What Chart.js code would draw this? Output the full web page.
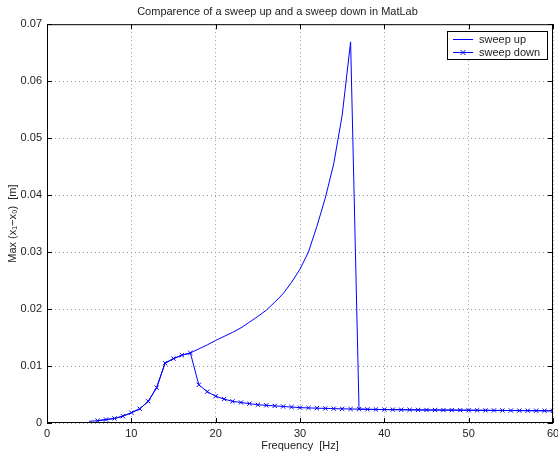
<!DOCTYPE html>
<html>
<head>
<meta charset="utf-8">
<script src="https://cdn.jsdelivr.net/npm/chart.js@4/dist/chart.umd.min.js"></script>
<style>
  html, body { margin: 0; padding: 0; background: #fff; }
  #chart { display: block; }
</style>
</head>
<body>
<canvas id="chart" width="558" height="457"></canvas>
<script>
const sweepUpHz = [5, 6, 7, 8, 9, 10, 11, 12, 13, 14, 15, 16, 17, 18, 19, 20,
  21, 22, 23, 24, 25, 26, 27, 28, 29, 30, 31, 32, 33, 34, 35, 36, 37, 38, 39, 40,
  41, 42, 43, 44, 45, 46, 47, 48, 49, 50, 51, 52, 53, 54, 55, 56, 57, 58, 59, 60];
const sweepUpAmp = [0.0003, 0.0004, 0.0006, 0.0008, 0.0012, 0.0018, 0.0025, 0.0038,
  0.0062, 0.0105, 0.0113, 0.0119, 0.0123, 0.0130, 0.0137, 0.0145,
  0.0152, 0.0159, 0.0167, 0.0177, 0.0187, 0.0198, 0.0212, 0.0227, 0.0247, 0.0270,
  0.0300, 0.0345, 0.0395, 0.0455, 0.0540, 0.0669, 0.00245, 0.0024, 0.00238, 0.00236,
  0.00235, 0.00233, 0.00232, 0.0023, 0.00229, 0.00228, 0.00227, 0.00226, 0.00225, 0.00224,
  0.00223, 0.00222, 0.00221, 0.0022, 0.00219, 0.00218, 0.00217, 0.00216, 0.00215, 0.00214];

const sweepDownHz = [6, 7, 8, 9, 10, 11, 12, 13, 14, 15, 16, 17, 18, 19, 20,
  21, 22, 23, 24, 25, 26, 27, 28, 29, 30, 31, 32, 33, 34, 35, 36, 37, 38, 39, 40,
  41, 42, 43, 44, 45, 46, 47, 48, 49, 50, 51, 52, 53, 54, 55, 56, 57, 58, 59, 60];
const sweepDownAmp = [0.0004, 0.0006, 0.0008, 0.0012, 0.0018, 0.0025, 0.0038, 0.0062,
  0.0105, 0.0113, 0.0119, 0.0123, 0.0067, 0.0055, 0.0047,
  0.0042, 0.0038, 0.0036, 0.0034, 0.0032, 0.0031, 0.0030, 0.0029, 0.0028, 0.0027,
  0.00265, 0.0026, 0.00256, 0.00252, 0.00249, 0.00246, 0.00243, 0.0024, 0.00238, 0.00236,
  0.00235, 0.00233, 0.00232, 0.0023, 0.00229, 0.00228, 0.00227, 0.00226, 0.00225, 0.00224,
  0.00223, 0.00222, 0.00221, 0.0022, 0.00219, 0.00218, 0.00217, 0.00216, 0.00215, 0.00214];

const xTicks = [0, 10, 20, 30, 40, 50, 60];
const yTicks = [0, 0.01, 0.02, 0.03, 0.04, 0.05, 0.06, 0.07];

const FONT = "'Liberation Sans', Arial, Helvetica, sans-serif";
const TEXT = "#222";
const BLUE = "#0000ff";

// box round the axes, inward tick marks and the legend inside the plot
const matlabFrame = {
  id: "matlabFrame",
  afterDatasetsDraw(chart) {
    const { ctx, chartArea: { left, top, right, bottom }, scales: { x, y } } = chart;
    ctx.save();
    ctx.strokeStyle = "#000";
    ctx.lineWidth = 1;
    ctx.strokeRect(left + 0.5, top + 0.5, right - left - 1, bottom - top - 1);

    ctx.beginPath();
    xTicks.forEach(v => {
      const px = Math.round(x.getPixelForValue(v)) + 0.5;
      ctx.moveTo(px, bottom); ctx.lineTo(px, bottom - 5);
      ctx.moveTo(px, top); ctx.lineTo(px, top + 5);
    });
    yTicks.forEach(v => {
      const py = Math.round(y.getPixelForValue(v)) + 0.5;
      ctx.moveTo(left, py); ctx.lineTo(left + 5, py);
      ctx.moveTo(right, py); ctx.lineTo(right - 5, py);
    });
    ctx.stroke();

    // legend
    const lx = 447, ly = 31, lw = 100, lh = 28;
    ctx.fillStyle = "#fff";
    ctx.fillRect(lx, ly, lw, lh);
    ctx.strokeStyle = "#000";
    ctx.strokeRect(lx + 0.5, ly + 0.5, lw, lh);

    ctx.strokeStyle = BLUE;
    ctx.beginPath();
    ctx.moveTo(lx + 6, ly + 8.5); ctx.lineTo(lx + 26, ly + 8.5);
    ctx.moveTo(lx + 6, ly + 21.5); ctx.lineTo(lx + 26, ly + 21.5);
    const mx = lx + 16, my = ly + 21.5, r = 2.5;
    ctx.moveTo(mx - r, my - r); ctx.lineTo(mx + r, my + r);
    ctx.moveTo(mx - r, my + r); ctx.lineTo(mx + r, my - r);
    ctx.stroke();

    ctx.fillStyle = TEXT;
    ctx.font = "11px " + FONT;
    ctx.textBaseline = "middle";
    ctx.textAlign = "left";
    ctx.fillText(chart.data.datasets[0].label, lx + 32, ly + 8.5);
    ctx.fillText(chart.data.datasets[1].label, lx + 32, ly + 21.5);
    ctx.restore();
  }
};

const ctx = document.getElementById("chart");

new Chart(ctx, {
  type: "line",
  data: {
    datasets: [
      {
        label: "sweep up",
        data: sweepUpHz.map((f, i) => ({ x: f, y: sweepUpAmp[i] })),
        borderColor: BLUE,
        borderWidth: 1,
        pointRadius: 0,
        tension: 0
      },
      {
        label: "sweep down",
        data: sweepDownHz.map((f, i) => ({ x: f, y: sweepDownAmp[i] })),
        borderColor: BLUE,
        borderWidth: 1,
        pointStyle: "crossRot",
        pointRadius: 3,
        pointBorderColor: BLUE,
        pointBorderWidth: 1,
        tension: 0
      }
    ]
  },
  options: {
    responsive: false,
    animation: false,
    layout: { padding: { left: 0, right: 3, top: 0, bottom: 0 } },
    plugins: {
      legend: { display: false },
      tooltip: { enabled: false },
      title: {
        display: true,
        text: "Comparence of a sweep up and a sweep down in MatLab",
        color: TEXT,
        font: { family: FONT, size: 11, weight: "normal" },
        padding: { top: 5, bottom: 6 }
      }
    },
    scales: {
      x: {
        type: "linear",
        min: 0,
        max: 60,
        afterBuildTicks: s => { s.ticks = xTicks.map(v => ({ value: v })); },
        ticks: { color: TEXT, font: { family: FONT, size: 11 }, padding: 4, maxRotation: 0 },
        grid: { color: "#999", drawTicks: false },
        border: { display: false, dash: [1, 3] },
        title: {
          display: true,
          text: "Frequency  [Hz]",
          color: TEXT,
          font: { family: FONT, size: 11 },
          padding: { top: 0, bottom: 4 }
        },
        afterFit: s => { s.height = 34; s.paddingLeft = 0; s.paddingRight = 0; }
      },
      y: {
        type: "linear",
        min: 0,
        max: 0.07,
        afterBuildTicks: s => { s.ticks = yTicks.map(v => ({ value: v })); },
        ticks: {
          color: TEXT,
          font: { family: FONT, size: 11 },
          padding: 5,
          callback: v => (v === 0 ? "0" : v.toFixed(2))
        },
        grid: { color: "#999", drawTicks: false },
        border: { display: false, dash: [1, 3] },
        title: {
          display: true,
          text: "Max (x\u2081\u2212x\u2080)  [m]",
          color: TEXT,
          font: { family: FONT, size: 11 },
          padding: { top: 6, bottom: 0 }
        },
        afterFit: s => { s.width = 47; s.paddingTop = 0; s.paddingBottom = 0; }
      }
    }
  },
  plugins: [matlabFrame]
});
</script>
</body>
</html>
